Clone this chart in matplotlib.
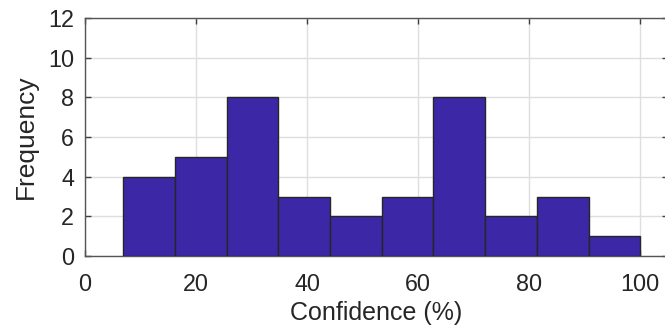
import numpy as np
import matplotlib
matplotlib.use("Agg")
from matplotlib import pyplot as plt

# histogram bins (confidence %) and counts per bin
bin_edges = np.linspace(6.9, 100, 11)
counts = [4, 5, 8, 3, 2, 3, 8, 2, 3, 1]
x_ticks = [0, 20, 40, 60, 80, 100]
y_ticks = [0, 2, 4, 6, 8, 10, 12]

plt.rcParams["font.family"] = ["Liberation Sans", "DejaVu Sans"]
plt.rcParams["font.size"] = 16.8

fig = plt.figure(figsize=(6.65, 3.28), dpi=100)
ax = fig.add_axes([85 / 665, 72 / 328, 583 / 665, 238 / 328])

ax.hist(bin_edges[:-1], bins=bin_edges, weights=counts,
        color="#3c27a6", edgecolor="#262626", linewidth=1.0, zorder=3)

ax.set_xlim(0, 105)
ax.set_ylim(0, 12)
ax.set_xticks(x_ticks)
ax.set_yticks(y_ticks)
ax.grid(True, color="#dedede", linewidth=1.0, zorder=0)
ax.set_axisbelow(True)

ax.tick_params(direction="in", length=4, width=1.0, color="#404040",
               labelcolor="#262626", top=True, right=True)
ax.tick_params(axis="x", pad=12)
ax.tick_params(axis="y", pad=8)
for spine in ax.spines.values():
    spine.set_color("#555555")
    spine.set_linewidth(1.0)

ax.set_xlabel("Confidence (%)", color="#262626", fontsize=18, labelpad=4)
ax.set_ylabel("Frequency", color="#262626", fontsize=19, labelpad=7)

fig.savefig("out.png", dpi=100)
